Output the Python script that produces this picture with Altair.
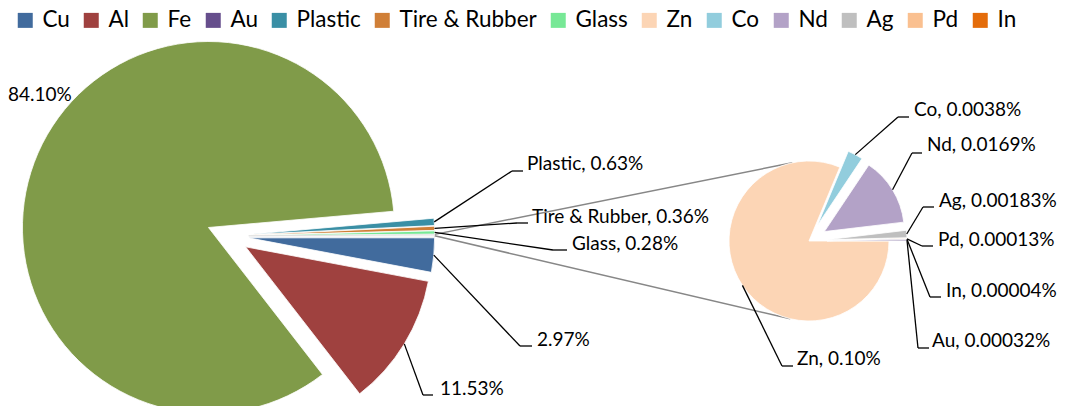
import math
import altair as alt
import pandas as pd

# ---------------- data ----------------
main_names = ["Fe", "Plastic", "Tire & Rubber", "Glass", "Other", "Cu", "Al"]
main_values = [84.10, 0.63, 0.36, 0.28, 0.0, 2.97, 11.53]
main_labels = ["84.10%", "Plastic, 0.63%", "Tire & Rubber, 0.36%", "Glass, 0.28%", "", "2.97%", "11.53%"]

sec_names = ["Zn", "Co", "Nd", "Ag", "Pd", "In", "Au"]
sec_values = [0.10, 0.0038, 0.0169, 0.00183, 0.00013, 0.00004, 0.00032]
sec_labels = ["Zn, 0.10%", "Co, 0.0038%", "Nd, 0.0169%", "Ag, 0.00183%",
              "Pd, 0.00013%", "In, 0.00004%", "Au, 0.00032%"]

# the "Other" slice of the first pie is the sum of the second pie
main_values[main_names.index("Other")] = sum(sec_values)

legend_names = ["Cu", "Al", "Fe", "Au", "Plastic", "Tire & Rubber", "Glass",
                "Zn", "Co", "Nd", "Ag", "Pd", "In"]
legend_colors = ["#416B9D", "#9F413F", "#809B49", "#664E8C", "#3A8FA5", "#D07F37",
                 "#77E896", "#FCD5B5", "#92CDDD", "#B3A2C7", "#BFBFBF", "#FAC090", "#E46C0A"]

# ---------------- layout (page pixels, shifted by the 8px page margin) ----------------
OFF = 8
FONT = "Lato"
LABEL_SIZE = 19

MAIN_CX, MAIN_CY, MAIN_R = 227.7 - OFF, 235.9 - OFF, 186
MAIN_EXPLODE = 21
MAIN_START = math.radians(142.2)

SEC_CX, SEC_CY, SEC_R = 809 - OFF, 241 - OFF, 80
SEC_EXPLODE = 18
SEC_START = math.radians(90)

TOP_ANG, BOT_ANG = math.radians(348), math.radians(193.5)
TOP_X = SEC_CX + SEC_R * math.sin(TOP_ANG)
TOP_Y = SEC_CY - SEC_R * math.cos(TOP_ANG)
BOT_X = SEC_CX + SEC_R * math.sin(BOT_ANG)
BOT_Y = SEC_CY - SEC_R * math.cos(BOT_ANG)

# label layout: elbow x, elbow y, end x of the horizontal piece, text x, text y
label_layout = {
    "Fe": (None, None, None, 8, 95),
    "Plastic": (512, 171, 523, 527, 164),
    "Tire & Rubber": (517, 223, 528, 532, 217),
    "Glass": (553, 250, 567, 572, 244),
    "Cu": (520, 346, 532, 537, 340),
    "Al": (423, 395, 433, 440, 389),
    "Zn": (782, 366, 793, 797, 359),
    "Co": (898, 117, 909, 914, 110),
    "Nd": (912, 153, 922, 927, 145),
    "Ag": (923, 207, 934, 939, 201),
    "Pd": (922, 246, 933, 938, 240),
    "In": (930, 297, 941, 946, 291),
    "Au": (918, 348, 929, 932, 341),
}


def build_df(names, values, labels):
    rows = []
    for i, (n, v, l) in enumerate(zip(names, values, labels)):
        lay = label_layout.get(n, (None, None, None, None, None))
        ex, ey, hx, tx, ty = [None if a is None else a - OFF for a in lay]
        rows.append(dict(name=n, value=v, order=i, label=l,
                         ex=ex, ey=ey, hx=hx, tx=tx, ty=ty,
                         lead=0 if ex is None else 1))
    return pd.DataFrame(rows)


main_df = build_df(main_names, main_values, main_labels)
sec_df = build_df(sec_names, sec_values, sec_labels)


def pie_base(df, cx, cy, r, start, explode_expr):
    return (
        alt.Chart(df)
        .transform_joinaggregate(total="sum(value)")
        .transform_window(cum="sum(value)", sort=[alt.SortField("order", order="ascending")],
                          frame=[None, 0])
        .transform_calculate(a1=f"{start} + 2*PI*datum.cum/datum.total")
        .transform_calculate(a0="datum.a1 - 2*PI*datum.value/datum.total")
        .transform_calculate(mid="(datum.a0 + datum.a1)/2", expl=explode_expr)
        .transform_calculate(px=f"{cx} + datum.expl*sin(datum.mid)",
                             py=f"{cy} - datum.expl*cos(datum.mid)")
        .transform_calculate(lx=f"datum.px + {r}*sin(datum.mid)",
                             ly=f"datum.py - {r}*cos(datum.mid)",
                             o0x=f"datum.px + {r}*sin(datum.a0)",
                             o0y=f"datum.py - {r}*cos(datum.a0)",
                             o1x=f"datum.px + {r}*sin(datum.a1)",
                             o1y=f"datum.py - {r}*cos(datum.a1)")
    )


main_base = pie_base(main_df, MAIN_CX, MAIN_CY, MAIN_R, MAIN_START, f"{MAIN_EXPLODE}")
sec_base = pie_base(sec_df, SEC_CX, SEC_CY, SEC_R, SEC_START,
                    f"datum.name == 'Zn' ? 0 : {SEC_EXPLODE}")

color = alt.Color(
    "name:N",
    scale=alt.Scale(domain=legend_names, range=legend_colors),
    legend=alt.Legend(
        title=None, orient="none", legendX=14 - OFF, legendY=9 - OFF, padding=0,
        direction="horizontal", symbolType="square", symbolSize=225,
        symbolStrokeWidth=0, symbolOpacity=1, labelFont=FONT, labelFontSize=22.5,
        labelColor="#000000", labelOffset=6, columnPadding=10, labelLimit=0,
        values=legend_names,
    ),
)

X = lambda f: alt.X(f, type="quantitative", scale=None, axis=None)
Y = lambda f: alt.Y(f, type="quantitative", scale=None, axis=None)


def arcs(base, r):
    return base.transform_filter("datum.name != 'Other'").mark_arc(
        radius=r, stroke="white", strokeWidth=0.8
    ).encode(
        x=X("px"), y=Y("py"),
        theta=alt.Theta("a0:Q", scale=None),
        theta2="a1:Q",
        color=color,
    )


main_arcs = arcs(main_base, MAIN_R)
sec_arcs = arcs(sec_base, SEC_R)

other_arc = main_base.transform_filter("datum.name == 'Other'").mark_arc(
    radius=MAIN_R, stroke="#D9D9D9", strokeWidth=0.6, fill="#FFFFFF"
).encode(x=X("px"), y=Y("py"), theta=alt.Theta("a0:Q", scale=None), theta2="a1:Q")

connect_top = main_base.transform_filter("datum.name == 'Other'").mark_rule(
    color="#878787", strokeWidth=1.5
).encode(x=X("o0x"), y=Y("o0y"), x2=alt.value(TOP_X), y2=alt.value(TOP_Y))
connect_bot = main_base.transform_filter("datum.name == 'Other'").mark_rule(
    color="#878787", strokeWidth=1.5
).encode(x=X("o1x"), y=Y("o1y"), x2=alt.value(BOT_X), y2=alt.value(BOT_Y))


def leaders(base):
    b = base.transform_filter("datum.lead == 1")
    l1 = b.mark_rule(color="#000000", strokeWidth=1.3).encode(
        x=X("lx"), y=Y("ly"), x2="ex:Q", y2="ey:Q")
    l2 = b.mark_rule(color="#000000", strokeWidth=1.3).encode(
        x=X("ex"), y=Y("ey"), x2="hx:Q", y2="ey:Q")
    return l1 + l2


def texts(base):
    return base.transform_filter("datum.label != ''").mark_text(
        align="left", baseline="middle", font=FONT, fontSize=LABEL_SIZE, color="#000000"
    ).encode(x=X("tx"), y=Y("ty"), text="label:N")


chart = alt.layer(
    connect_top, connect_bot,
    main_arcs, other_arc, sec_arcs,
    leaders(main_base), leaders(sec_base),
    texts(main_base), texts(sec_base),
).properties(
    width=1067 - 2 * OFF, height=414 - 2 * OFF,
    autosize=alt.AutoSizeParams(type="none"), padding=0,
).configure_view(stroke=None)

chart.save("out.html", embed_options={"renderer": "svg", "actions": False})
